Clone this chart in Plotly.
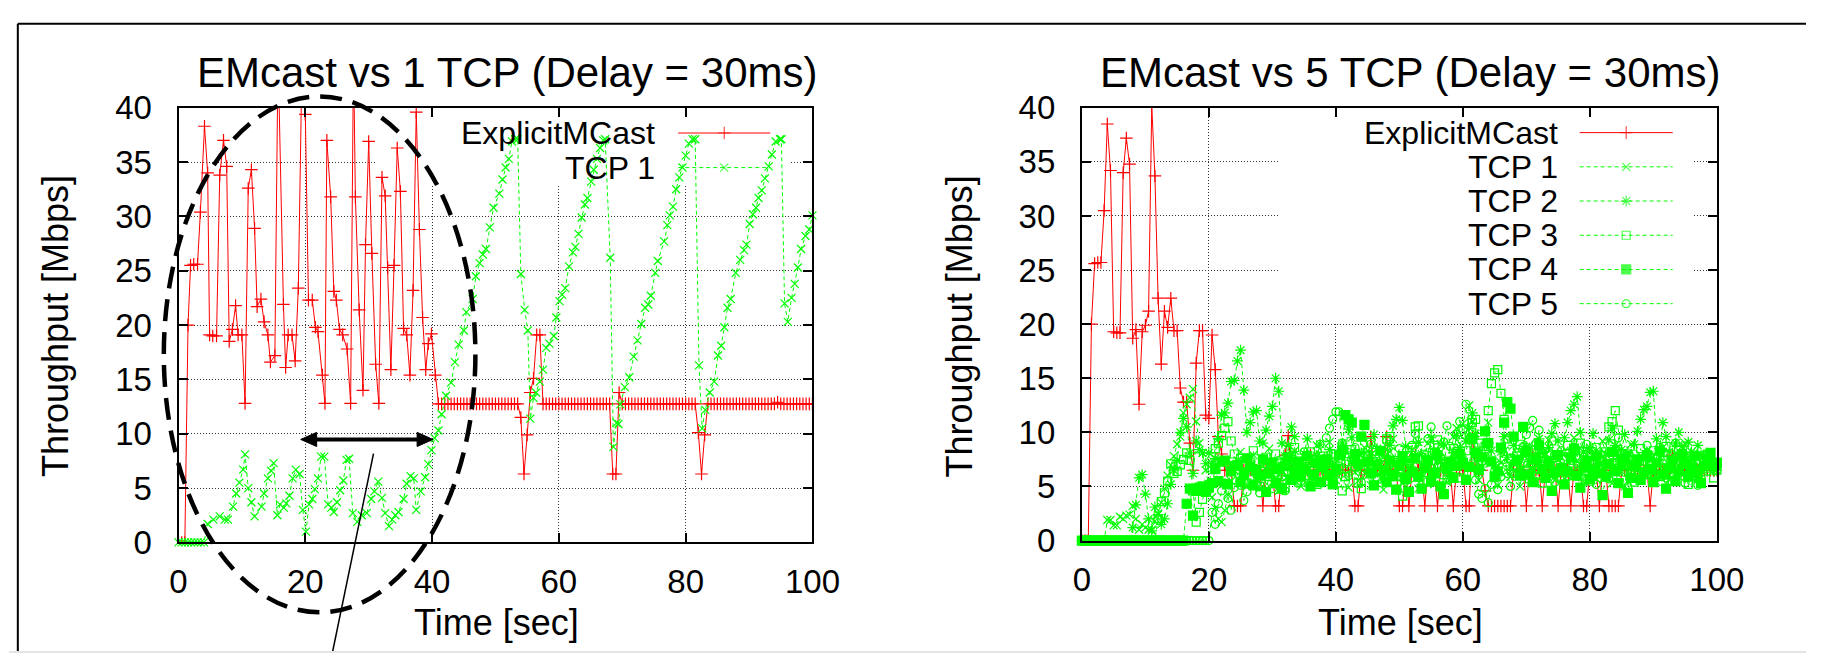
import plotly.graph_objects as go

W, H = 1834, 672
FONT = "Liberation Sans, Arial, Helvetica, sans-serif"
RED = "#ff0000"
GREEN = "#00ff00"

# ---------------- data ----------------
# common sampling grid (0.5 s) used by the right panel and the later part of the left panel
T_GRID = [i * 0.5 for i in range(201)]

# Left panel: EMcast vs 1 TCP -- ExplicitMCast, first 41 s (irregular read-off times)
L_RED_T_EARLY = [0, 0.5, 1.0, 1.5, 1.9, 2.4, 3.0, 3.45, 4.1, 4.6, 4.9, 5.4, 6.0, 6.5, 7.1, 7.6, 8.0, 8.5,
                 9.0, 9.4, 10.0, 10.5, 11.0, 11.5, 12.0, 12.4, 13.0, 13.5, 14.1, 14.5, 15.2, 15.7, 16.55,
                 16.9, 17.3, 17.9, 18.4, 18.9, 19.5, 20.0, 20.5, 21.1, 21.6, 22.0, 22.7, 23.1, 23.4, 24.0,
                 24.5, 24.9, 25.4, 25.9, 26.6, 27.15, 27.6, 27.9, 28.5, 29.1, 29.5, 30.0, 30.5, 31.1, 31.6,
                 32.1, 32.6, 33.0, 33.5, 34.0, 34.5, 35.0, 35.5, 36.0, 36.5, 37.0, 37.5, 38.0, 38.5, 39.0,
                 39.4, 39.9, 40.5, 41.0]
L_RED_Y_EARLY = [0, 0, 0, 20.0, 25.5, 25.6, 25.6, 30.4, 38.3, 34.0, 19.1, 19.0, 19.0, 33.8, 37.0, 34.6, 18.5, 19.6,
                 21.8, 19.1, 19.1, 12.8, 32.6, 34.3, 28.9, 21.7, 22.4, 20.3, 19.1, 16.6, 17.2, 45.0, 21.9,
                 16.1, 19.1, 19.1, 16.7, 23.4, 45.0, 39.4, 22.3, 22.3, 19.8, 19.4, 15.4, 12.8, 37.0, 31.8,
                 23.1, 22.3, 19.6, 19.1, 17.8, 12.8, 45.0, 31.8, 21.4, 14.0, 27.4, 36.9, 26.6, 16.4, 12.8,
                 33.6, 31.9, 25.3, 15.9, 25.5, 36.3, 32.3, 19.7, 19.1, 15.4, 23.2, 39.6, 28.8, 20.7, 15.9,
                 18.3, 19.2, 15.4, 12.75]
# ExplicitMCast from 41.5 s to 100 s on the 0.5 s grid
L_RED_Y_LATE = [12.75, 12.75, 12.75, 12.75, 12.75, 12.75, 12.75, 12.75, 12.75, 12.75,
                12.75, 12.75, 12.75, 12.75, 12.75, 12.75, 12.75, 12.75, 12.75, 12.75,
                12.75, 12.75, 12.75, 12.75, 12.75,
                11.5, 6.3, 9.9, 13.8, 15.1, 19.1, 19.1, 12.75,
                12.75, 12.75, 12.75, 12.75, 12.75, 12.75, 12.75, 12.75, 12.75, 12.75,
                12.75, 12.75, 12.75, 12.75, 12.75, 12.75, 12.75, 12.75, 12.75, 12.75, 12.75,
                6.3, 6.3, 13.8,
                12.75, 12.75, 12.75, 12.75, 12.75, 12.75, 12.75, 12.75, 12.75, 12.75, 12.75, 12.75,
                12.75, 12.75, 12.75, 12.75, 12.75, 12.75, 12.75, 12.75, 12.75, 12.75, 12.75, 12.75,
                10.1, 6.3, 9.9,
                12.75, 12.75, 12.75, 12.75, 12.75, 12.75, 12.75, 12.75, 12.75, 12.75, 12.75, 12.75,
                12.75, 12.75, 12.75, 12.75, 12.75, 12.75, 12.75, 12.75, 12.75, 12.75, 12.9, 12.75,
                12.75, 12.75, 12.75, 12.75, 12.75, 12.75, 12.75, 12.75, 12.75, 12.75]

# Left panel: TCP 1
L_TCP1_T = [0, 0.5, 1.0, 1.5, 2.0, 2.5, 3.0, 3.5, 4.0, 4.6, 5.5, 6.5, 7.3, 7.8, 8.6, 9.1, 9.6, 10.2, 10.5, 11.0,
            11.5, 12.0, 13.1, 13.5, 14.1, 14.6, 15.0, 15.6, 16.0, 16.6, 17.0, 17.5, 18.0, 18.5, 19.1, 19.6,
            20.1, 20.6, 21.1, 21.5, 22.0, 22.5, 23.0, 23.6, 24.1, 24.5, 25.0, 25.5, 26.0, 26.5, 26.9, 27.5,
            28.2, 28.9, 29.7, 30.4, 30.9, 31.5, 32.1, 32.6, 33.2, 33.7, 34.2, 34.7, 35.5, 36.0, 36.6, 37.1,
            37.5, 38.2, 38.9, 39.4, 39.9, 40.4, 41.0, 41.5, 42.2, 43.0, 43.6, 44.2, 45.0, 45.4, 46.4, 46.9,
            47.5, 48.0, 48.5, 49.1, 49.7, 50.6, 51.1, 51.6, 52.1, 52.6, 53.1, 53.5, 54.0, 54.6, 55.1, 55.5,
            56.0, 56.4, 57.0, 57.5, 58.0, 58.5, 59.2, 59.6, 60.1, 60.5, 61.0, 61.6, 62.2, 62.6, 63.1, 63.6,
            64.1, 64.5, 65.1, 65.5, 66.0, 66.5, 67.0, 67.3, 68.1, 68.6, 69.1, 69.4, 69.7, 70.4, 71.1, 71.8,
            72.4, 73.0, 73.6, 74.1, 74.5, 75.2, 75.6, 76.6, 77.1, 77.5, 78.0, 78.5, 79.0, 79.5, 80.0, 80.5,
            81.1, 81.5, 82.1, 82.6, 83.1, 83.8, 84.5, 85.1, 85.6, 86.1, 86.6, 87.1, 87.9, 88.6, 89.2, 89.6,
            90.1, 90.6, 91.1, 91.5, 92.0, 92.5, 93.1, 93.6, 94.2, 94.9, 95.1, 95.6, 96.1, 96.7, 97.2, 97.7,
            98.2, 98.9, 99.5, 100.0]
L_TCP1_Y = [0, 0, 0, 0, 0, 0, 0, 0, 0, 1.7, 2.1, 2.4, 2.1, 2.1, 3.3, 4.5, 5.5, 6.7, 8.1, 5.0,
            3.7, 2.4, 3.3, 4.5, 5.9, 6.6, 7.3, 2.5, 3.5, 3.2, 3.6, 4.3, 5.9, 6.7, 6.3, 3.0,
            1.0, 3.5, 4.0, 4.9, 5.9, 7.9, 7.9, 3.5, 3.2, 2.8, 3.7, 4.8, 5.7, 7.6, 7.7, 2.7,
            1.9, 2.5, 2.7, 4.0, 4.7, 5.6, 4.1, 2.7, 1.5, 2.1, 2.5, 2.8, 4.0, 5.4, 6.1, 5.9,
            3.0, 4.7, 6.0, 7.2, 8.5, 9.6, 10.3, 11.8, 13.5, 14.7, 16.6, 18.2, 19.5, 21.2, 22.4, 24.5,
            25.7, 26.5, 27.0, 29.0, 30.8, 32.1, 33.4, 34.5, 35.3, 36.9, 37.1, 37.1, 24.7, 21.4, 19.5, 11.4,
            13.3, 13.8, 14.8, 15.9, 17.9, 18.3, 19.0, 20.7, 22.2, 22.8, 23.4, 25.4, 26.7, 27.2, 28.4, 29.9,
            31.1, 31.7, 33.2, 34.3, 35.3, 36.3, 37.0, 37.1, 26.2, 8.8, 11.0, 10.9, 12.7, 14.3, 15.2, 17.1,
            18.6, 20.1, 21.6, 21.9, 22.7, 24.8, 25.9, 27.7, 29.2, 30.1, 30.9, 32.5, 33.6, 34.5, 35.6, 36.7,
            37.1, 37.1, 16.3, 10.5, 12.2, 13.8, 14.8, 17.2, 18.1, 19.8, 21.6, 22.4, 24.8, 26.0, 26.9, 27.4,
            29.3, 30.2, 30.8, 31.7, 32.4, 33.5, 34.6, 35.7, 36.9, 37.1, 37.1, 22.0, 20.3, 22.5, 23.8, 25.3,
            27.0, 28.2, 28.8, 30.1]

# Right panel: EMcast vs 5 TCP (all on the 0.5 s grid, rows of 10 s)
R_RED_Y = [0, 0, 0, 20.0, 25.6, 25.7, 25.7, 30.5, 38.5, 34.2, 19.3, 19.2, 19.2, 34.0, 37.2, 34.8, 18.7, 19.5, 12.6, 19.3,
           19.9, 21.2, 40.2, 33.7, 22.4, 16.3, 21.2, 19.7, 22.4, 19.4, 19.4, 14.1, 12.8, 12.8, 9.0, 6.5, 16.4, 19.4, 19.4, 11.6,
           11.3, 19.0, 15.8, 9.6, 8.0, 6.5, 6.5, 6.5, 3.2, 3.2, 3.2, 6.5, 6.5, 6.5, 6.5, 6.5, 6.5, 3.2, 6.5, 6.5,
           6.5, 3.2, 3.2, 6.5, 7.9, 9.7, 6.5, 6.5, 6.5, 6.5, 6.5, 6.5, 7.9, 6.5, 6.5, 6.5, 6.5, 6.5, 6.5, 6.5,
           6.5, 6.5, 6.5, 6.5, 6.5, 6.5, 3.2, 3.2, 6.5, 6.5, 6.5, 9.6, 6.5, 6.5, 6.5, 6.5, 9.6, 6.5, 6.5, 6.5,
           3.2, 3.2, 6.5, 3.2, 6.5, 7.9, 6.5, 6.5, 3.2, 6.5, 6.5, 6.5, 3.2, 6.5, 6.5, 6.5, 6.5, 3.2, 6.5, 6.5,
           6.5, 3.2, 3.2, 9.6, 6.5, 6.5, 6.5, 4.6, 3.2, 3.2, 3.2, 3.2, 3.2, 3.2, 3.2, 3.2, 6.5, 6.5, 6.5, 6.5,
           3.2, 6.5, 7.9, 6.5, 6.5, 3.2, 6.5, 6.5, 6.5, 6.5, 3.2, 6.5, 6.5, 6.5, 3.2, 6.5, 6.5, 6.5, 3.2, 3.2,
           6.5, 6.5, 6.5, 3.2, 6.5, 6.5, 3.2, 3.2, 3.2, 3.2, 6.5, 6.5, 6.5, 6.5, 6.5, 6.5, 6.5, 6.5, 6.5, 3.2,
           6.5, 6.5, 6.5, 6.5, 6.5, 6.5, 7.9, 6.5, 6.5, 6.5, 6.5, 6.5, 6.5, 6.5, 6.5, 6.5, 6.5, 6.5, 6.5, 6.5,
           6.5]
R_TCP1_Y = [0, 0, 0, 0, 0, 0, 0, 0, 1.9, 1.9, 1.4, 1.4, 2.2, 2.0, 2.3, 2.4, 3.2, 2.0, 1.0, 1.5,
            1.2, 1.0, 1.0, 1.8, 2.5, 3.5, 4.8, 6.0, 7.0, 7.8, 8.9, 9.6, 11.8, 12.6, 13.2, 14.0, 11.0, 9.0, 8.1, 6.5,
            5.0, 4.0, 3.0, 2.0, 1.7, 2.8, 4.2, 5.5, 6.5, 7.4, 8.2, 6.0, 5.1, 6.8, 7.9, 5.6, 4.8, 6.2, 7.3, 8.5,
            6.1, 5.2, 4.6, 6.9, 7.8, 5.9, 7.1, 8.3, 6.4, 5.0, 6.6, 7.7, 5.3, 6.2, 8.8, 7.0, 5.4, 6.5, 9.1, 7.2,
            5.6, 6.8, 8.0, 6.1, 4.9, 7.4, 6.3, 5.5, 7.9, 8.6, 6.0, 5.1, 6.9, 7.6, 5.8, 4.7, 6.4, 8.2, 9.4, 7.3,
            6.0, 5.3, 7.1, 6.6, 8.4, 5.7, 4.8, 6.9, 7.5, 9.0, 6.3, 5.2, 7.8, 8.9, 6.7, 5.4, 7.0, 9.6, 10.4, 8.1,
            10.8, 9.2, 12.5, 11.0, 7.4, 5.6, 6.8, 8.7, 10.9, 7.5, 6.0, 5.1, 7.2, 8.3, 6.4, 5.9, 7.6, 6.2, 5.0, 6.7,
            7.9, 8.8, 6.5, 5.4, 7.3, 6.1, 8.0, 9.3, 7.0, 5.6, 6.4, 7.7, 5.2, 6.0, 8.1, 9.5, 7.4, 6.3, 5.5, 7.1,
            8.4, 6.8, 5.7, 7.0, 9.2, 8.0, 6.1, 5.3, 6.9, 7.8, 6.4, 5.0, 7.5, 8.9, 6.6, 5.8, 7.2, 6.0, 8.3, 7.4,
            6.2, 5.4, 7.7, 8.6, 6.9, 5.6, 7.0, 8.1, 6.5, 7.3, 9.0, 7.6, 6.3, 5.5, 6.8, 7.9, 6.4, 7.1, 8.2, 6.7,
            6.9]
R_TCP2_Y = [0, 0, 0, 0, 0, 0, 0, 0, 0, 0, 0, 0, 0, 0, 0, 0, 1.2, 3.3, 5.8, 6.1,
            4.3, 2.0, 0.9, 3.1, 2.4, 1.5, 2.0, 3.4, 5.2, 6.5, 7.4, 10.0, 11.3, 10.5, 8.1, 6.2, 9.2, 8.4, 8.1, 7.1,
            8.1, 7.1, 7.6, 9.4, 11.6, 11.8, 12.7, 14.7, 14.8, 16.6, 17.6, 13.9, 10.0, 10.9, 11.9, 12.0, 9.2, 9.0, 10.2, 11.5,
            12.4, 15.0, 13.8, 9.0, 7.6, 8.8, 10.5, 9.6, 7.1, 6.3, 8.0, 9.4, 7.2, 6.0, 7.8, 8.9, 7.5, 6.2, 8.4, 7.0,
            6.1, 7.7, 9.0, 8.2, 10.3, 9.5, 7.4, 6.8, 8.1, 7.0, 6.4, 7.9, 9.8, 8.5, 7.1, 6.0, 7.6, 8.8, 10.6, 11.2,
            12.3, 11.1, 8.7, 7.3, 6.5, 7.8, 9.1, 8.0, 6.9, 7.7, 9.5, 8.2, 6.6, 7.4, 8.9, 7.2, 6.3, 8.1, 9.7, 8.6,
            7.5, 9.2, 10.4, 11.8, 9.9, 8.1, 6.8, 7.9, 9.0, 8.3, 7.0, 6.4, 8.2, 9.6, 7.7, 6.9, 8.8, 7.4, 6.5, 7.9,
            8.7, 7.3, 6.6, 8.0, 9.4, 8.1, 7.2, 8.6, 9.9, 10.8, 9.2, 8.1, 9.5, 10.9, 12.0, 12.6, 13.3, 10.0, 8.2, 7.4,
            8.6, 9.9, 8.3, 7.1, 6.5, 8.0, 9.3, 10.4, 8.8, 7.6, 8.4, 9.8, 8.1, 7.0, 8.9, 10.1, 11.2, 12.1, 12.4, 13.7,
            13.8, 9.4, 8.5, 10.9, 9.6, 8.2, 7.5, 9.0, 10.0, 8.7, 7.8, 9.1, 8.2, 7.4, 8.8, 7.9, 6.9, 8.0, 7.2, 6.8,
            6.5]
R_TCP3_Y = [0, 0, 0, 0, 0, 0, 0, 0, 0, 0, 0, 0, 0, 0, 0, 0, 0, 0, 0, 0,
            0, 0, 0, 0, 2.0, 3.6, 4.4, 5.5, 7.1, 6.2, 6.4, 7.0, 7.5, 8.1, 7.4, 4.6, 1.7, 2.6, 3.8, 4.6,
            5.2, 6.8, 8.5, 9.0, 9.7, 10.4, 11.0, 9.2, 8.0, 6.9, 7.6, 6.1, 5.3, 7.0, 8.3, 6.6, 5.0, 6.4, 7.7, 5.9,
            6.8, 8.0, 7.1, 5.6, 4.9, 6.3, 7.5, 8.6, 6.7, 5.4, 6.0, 7.4, 8.2, 6.5, 5.2, 6.9, 7.8, 6.1, 5.5, 7.2,
            8.0, 6.6, 4.6, 5.9, 7.3, 8.4, 6.8, 5.3, 4.8, 6.5, 7.9, 9.1, 7.0, 5.7, 6.4, 8.0, 9.4, 9.6, 7.2, 5.9,
            6.6, 4.1, 5.8, 7.4, 8.6, 10.5, 10.6, 7.7, 6.3, 5.4, 7.1, 8.8, 9.3, 7.5, 6.1, 5.6, 7.3, 8.5, 6.9, 5.8,
            7.0, 8.3, 9.5, 10.9, 11.2, 9.0, 7.4, 8.7, 12.0, 14.5, 15.5, 15.8, 13.6, 11.2, 9.4, 7.6, 6.2, 7.8, 8.9, 7.1,
            6.5, 5.7, 7.2, 8.4, 6.6, 5.3, 7.0, 8.1, 9.2, 7.7, 6.4, 5.8, 7.5, 8.8, 6.9, 6.0, 7.6, 9.0, 8.2, 6.7,
            5.5, 7.1, 8.6, 7.4, 6.9, 8.2, 10.5, 11.0, 12.0, 10.2, 8.0, 6.8, 7.9, 6.2, 5.4, 7.3, 8.5, 7.0, 6.1, 7.7,
            8.3, 6.6, 5.9, 7.4, 8.7, 6.3, 5.5, 7.0, 8.4, 7.1, 6.0, 5.2, 6.8, 7.9, 6.4, 5.6, 7.2, 8.0, 6.7, 5.8,
            6.5]
R_TCP4_Y = [0, 0, 0, 0, 0, 0, 0, 0, 0, 0, 0, 0, 0, 0, 0, 0, 0, 0, 0, 0,
            0, 0, 0, 0, 0, 0, 0, 0, 0, 0, 0, 0, 0, 3.4, 4.8, 2.3, 4.6, 4.9, 5.0, 4.5,
            4.9, 5.3, 6.6, 5.5, 7.3, 7.4, 5.2, 6.4, 6.9, 7.0, 5.4, 6.3, 7.6, 6.8, 5.1, 6.5, 6.0, 7.5, 4.5, 6.2,
            7.2, 5.3, 6.6, 4.8, 6.9, 7.7, 5.6, 6.4, 7.3, 5.9, 6.6, 7.8, 5.0, 6.1, 7.2, 5.4, 6.8, 7.5, 6.0, 5.2,
            6.6, 7.9, 8.4, 11.6, 11.2, 10.9, 8.0, 7.1, 9.6, 10.7, 7.3, 6.2, 5.1, 7.0, 8.3, 6.5, 5.4, 7.4, 6.1, 4.7,
            6.9, 7.8, 5.7, 4.5, 6.3, 7.6, 5.9, 4.8, 6.7, 7.4, 5.5, 6.2, 7.9, 5.0, 4.3, 6.6, 7.3, 5.8, 6.9, 8.0,
            7.2, 5.6, 6.8, 9.4, 8.1, 6.5, 7.7, 10.1, 9.0, 7.3, 5.9, 6.4, 8.6, 10.9, 12.8, 12.2, 9.6, 7.4, 6.0, 10.5,
            8.2, 6.1, 5.4, 7.5, 8.8, 6.6, 5.8, 7.2, 4.6, 6.3, 7.9, 6.7, 5.2, 6.4, 7.7, 8.5, 6.0, 4.9, 6.8, 7.4,
            5.7, 6.5, 7.8, 6.2, 4.2, 5.9, 7.1, 8.2, 6.4, 5.3, 7.0, 7.6, 4.4, 5.8, 6.9, 7.5, 5.6, 6.3, 7.9, 6.6,
            5.4, 7.2, 8.3, 6.1, 4.8, 6.7, 7.4, 5.5, 6.4, 8.0, 7.1, 5.9, 6.6, 7.8, 6.2, 5.3, 6.9, 7.6, 8.1, 7.0,
            7.2]
R_TCP5_Y = [0, 0, 0, 0, 0, 0, 0, 0, 0, 0, 0, 0, 0, 0, 0, 0, 0, 0, 0, 0,
            0, 0, 0, 0, 0, 0, 0, 0, 0, 0, 0, 0, 0, 0, 0, 0, 0, 0, 0, 0,
            0, 2.6, 1.5, 3.4, 4.6, 5.3, 3.9, 2.8, 4.9, 6.2, 5.1, 3.7, 4.5, 5.8, 6.7, 5.2, 4.4, 6.0, 7.1, 5.5,
            4.8, 6.3, 7.4, 5.9, 4.6, 6.8, 7.9, 6.1, 5.3, 7.0, 8.2, 6.4, 5.0, 6.6, 7.7, 8.9, 7.2, 9.5, 10.4, 11.2,
            11.9, 11.9, 9.0, 7.1, 6.0, 7.5, 8.6, 6.9, 5.4, 6.7, 7.8, 8.9, 7.3, 5.8, 6.5, 8.1, 9.2, 7.0, 5.9, 7.4,
            8.5, 6.8, 5.5, 7.2, 8.8, 9.9, 7.6, 6.3, 8.0, 9.4, 10.5, 8.2, 6.9, 7.7, 9.1, 10.6, 8.7, 7.3, 9.8, 11.0,
            10.2, 12.6, 9.3, 7.1, 5.6, 4.3, 3.9, 4.8, 3.5, 5.2, 6.4, 4.7, 5.9, 7.5, 6.2, 5.0, 6.8, 8.1, 7.0, 8.7,
            9.8, 10.4, 11.1, 9.0, 10.2, 8.1, 6.7, 7.9, 6.2, 5.4, 7.0, 8.3, 6.6, 5.9, 7.4, 8.6, 7.1, 6.0, 7.7, 8.9,
            7.3, 6.1, 5.2, 6.8, 7.9, 6.4, 5.7, 7.2, 8.4, 9.5, 7.6, 6.3, 5.0, 6.9, 8.0, 6.5, 5.6, 7.3, 8.8, 7.0,
            6.2, 7.7, 8.6, 7.1, 5.8, 6.5, 7.4, 9.0, 7.8, 6.6, 5.3, 6.9, 7.5, 6.0, 5.1, 6.7, 7.9, 6.4, 8.1, 7.2,
            6.8]

TITLES = ["EMcast vs 1 TCP (Delay = 30ms)", "EMcast vs 5 TCP (Delay = 30ms)"]
X_TITLE = "Time [sec]"
Y_TITLE = "Throughput [Mbps]"
X_TICKS = [0, 20, 40, 60, 80, 100]
Y_TICKS = [0, 5, 10, 15, 20, 25, 30, 35, 40]
R_NAMES = ["ExplicitMCast", "TCP 1", "TCP 2", "TCP 3", "TCP 4", "TCP 5"]

# ---------------- assemble ----------------
L_RED_T = L_RED_T_EARLY + T_GRID[83:]
L_RED_Y = L_RED_Y_EARLY + L_RED_Y_LATE
assert len(L_RED_T) == len(L_RED_Y), (len(L_RED_T), len(L_RED_Y))
assert len(L_TCP1_T) == len(L_TCP1_Y), (len(L_TCP1_T), len(L_TCP1_Y))
for s in (R_RED_Y, R_TCP1_Y, R_TCP2_Y, R_TCP3_Y, R_TCP4_Y, R_TCP5_Y):
    assert len(s) == len(T_GRID), len(s)

SYMBOLS = ["cross-thin-open", "x-thin-open", "asterisk-open", "square-open", "square", "circle-open"]
MSIZE = [9, 8, 9, 8, 9, 8]

fig = go.Figure()


def add_series(x, y, i, xa, ya, clip):
    color = RED if i == 0 else GREEN
    line = dict(color=color, width=1) if i == 0 else dict(color=GREEN, width=1, dash="4px,3px")
    fig.add_trace(go.Scatter(
        x=x, y=y, mode="lines+markers", xaxis=xa, yaxis=ya, showlegend=False, cliponaxis=clip,
        line=line,
        marker=dict(symbol=SYMBOLS[i], size=MSIZE[i], color=color, line=dict(color=color, width=1.2)),
        hoverinfo="skip"))


add_series(L_RED_T, L_RED_Y, 0, "x", "y", True)
add_series(L_TCP1_T, L_TCP1_Y, 1, "x", "y", False)
add_series(T_GRID, R_RED_Y, 0, "x2", "y2", True)
for k, s in enumerate([R_TCP1_Y, R_TCP2_Y, R_TCP3_Y, R_TCP4_Y, R_TCP5_Y]):
    add_series(T_GRID, s, k + 1, "x2", "y2", False)

# key (gnuplot style: right-justified text, sample to the right) on a pixel overlay axis
annotations = []
KEY_FONT = 32


def key_entry(label, i, y, x_text, x0, x1):
    color = RED if i == 0 else GREEN
    line = dict(color=color, width=1) if i == 0 else dict(color=GREEN, width=1, dash="4px,3px")
    fig.add_trace(go.Scatter(
        x=[x0, (x0 + x1) / 2, x1], y=[y, y, y], mode="lines+markers", xaxis="x3", yaxis="y3",
        showlegend=False, cliponaxis=False, line=line, hoverinfo="skip",
        marker=dict(symbol=SYMBOLS[i], size=[0, MSIZE[i], 0], color=color, line=dict(color=color, width=1.2))))
    annotations.append(dict(xref="x3", yref="y3", x=x_text, y=y, text=label, showarrow=False,
                            xanchor="right", yanchor="middle",
                            font=dict(size=KEY_FONT, color="black", family=FONT)))


key_entry(R_NAMES[0], 0, 121.7, 661, 683, 777)
key_entry(R_NAMES[1], 1, 158.3, 661, 683, 777)
for k, nm in enumerate(R_NAMES):
    key_entry(nm, k, 121.3 + 36.2 * k, 1583, 1603, 1698)

# titles and axis titles
for txt, cx in zip(TITLES, [508, 1430]):
    annotations.append(dict(xref="x3", yref="y3", x=cx, y=58, text=txt, showarrow=False,
                            xanchor="center", yanchor="middle", font=dict(size=42, color="black", family=FONT)))
for cx in [498, 1420]:
    annotations.append(dict(xref="x3", yref="y3", x=cx, y=640, text=X_TITLE, showarrow=False,
                            xanchor="center", yanchor="middle", font=dict(size=36, color="black", family=FONT)))
for cx in [47, 970]:
    annotations.append(dict(xref="x3", yref="y3", x=cx, y=326, text=Y_TITLE, showarrow=False, textangle=-90,
                            xanchor="center", yanchor="middle", font=dict(size=36, color="black", family=FONT)))

shapes = [
    # key areas are kept free of grid lines (drawn above the grid, below the data)
    dict(type="rect", xref="x", yref="y", x0=31.1, x1=96.6, y0=32.8, y1=40.3, layer="between",
         fillcolor="white", line=dict(width=0)),
    dict(type="rect", xref="x2", yref="y2", x0=31.2, x1=96.3, y0=20.2, y1=40.3, layer="between",
         fillcolor="white", line=dict(width=0)),
    # dashed ellipse annotation
    dict(type="circle", xref="x3", yref="y3", x0=158, x1=476, y0=83, y1=629,
         line=dict(color="black", width=4.5, dash="22px,11px")),
    # double-headed arrow
    dict(type="line", xref="x3", yref="y3", x0=310, x1=420, y0=446, y1=446, line=dict(color="black", width=4)),
    dict(type="path", xref="x3", yref="y3", path="M297.7,446 L314,438.5 L314,453.5 Z",
         fillcolor="black", line=dict(color="black", width=1)),
    dict(type="path", xref="x3", yref="y3", path="M432.7,446 L416.5,438.5 L416.5,453.5 Z",
         fillcolor="black", line=dict(color="black", width=1)),
    # pointer line
    dict(type="line", xref="x3", yref="y3", x0=372, x1=330, y0=461, y1=672, line=dict(color="black", width=1.5)),
    # page frame
    dict(type="line", xref="x3", yref="y3", x0=9, x1=W, y0=6, y1=6, line=dict(color="black", width=2)),
    dict(type="line", xref="x3", yref="y3", x0=9, x1=9, y0=6, y1=H, line=dict(color="black", width=2)),
    dict(type="line", xref="x3", yref="y3", x0=0, x1=W, y0=671, y1=671, line=dict(color="#e4e4e4", width=2)),
]

axis_common = dict(
    showline=True, linecolor="black", linewidth=2, mirror="allticks",
    ticks="inside", ticklen=9, tickwidth=1.5, tickcolor="black",
    showgrid=True, gridcolor="#333333", gridwidth=1, griddash="1px,2px",
    zeroline=False, tickfont=dict(size=33, color="black", family=FONT),
    fixedrange=True,
)

fig.update_layout(
    width=W, height=H, margin=dict(l=0, r=0, t=0, b=0),
    paper_bgcolor="white", plot_bgcolor="rgba(0,0,0,0)",
    font=dict(family=FONT, color="black"),
    xaxis=dict(domain=[173 / W, 820 / W], range=[0, 100], tickvals=X_TICKS, anchor="y",
               ticklabelstandoff=9, **axis_common),
    yaxis=dict(domain=[1 - 555 / H, 1 - 95 / H], range=[0, 40], tickvals=Y_TICKS, anchor="x",
               ticklabelstandoff=18, **axis_common),
    xaxis2=dict(domain=[1095 / W, 1743 / W], range=[0, 100], tickvals=X_TICKS, anchor="y2",
                ticklabelstandoff=9, **axis_common),
    yaxis2=dict(domain=[1 - 553 / H, 1 - 95 / H], range=[0, 40], tickvals=Y_TICKS, anchor="x2",
                ticklabelstandoff=18, **axis_common),
    xaxis3=dict(domain=[0, 1], range=[0, W], visible=False, anchor="y3", fixedrange=True),
    yaxis3=dict(domain=[0, 1], range=[H, 0], visible=False, anchor="x3", fixedrange=True),
    annotations=annotations, shapes=shapes, showlegend=False,
)

# the page's default 8px body margin would shift the whole figure; remove it
fig.write_html("out.html", config={"displayModeBar": False},
               post_script="document.body.style.margin='0px';document.body.style.overflow='hidden';")
